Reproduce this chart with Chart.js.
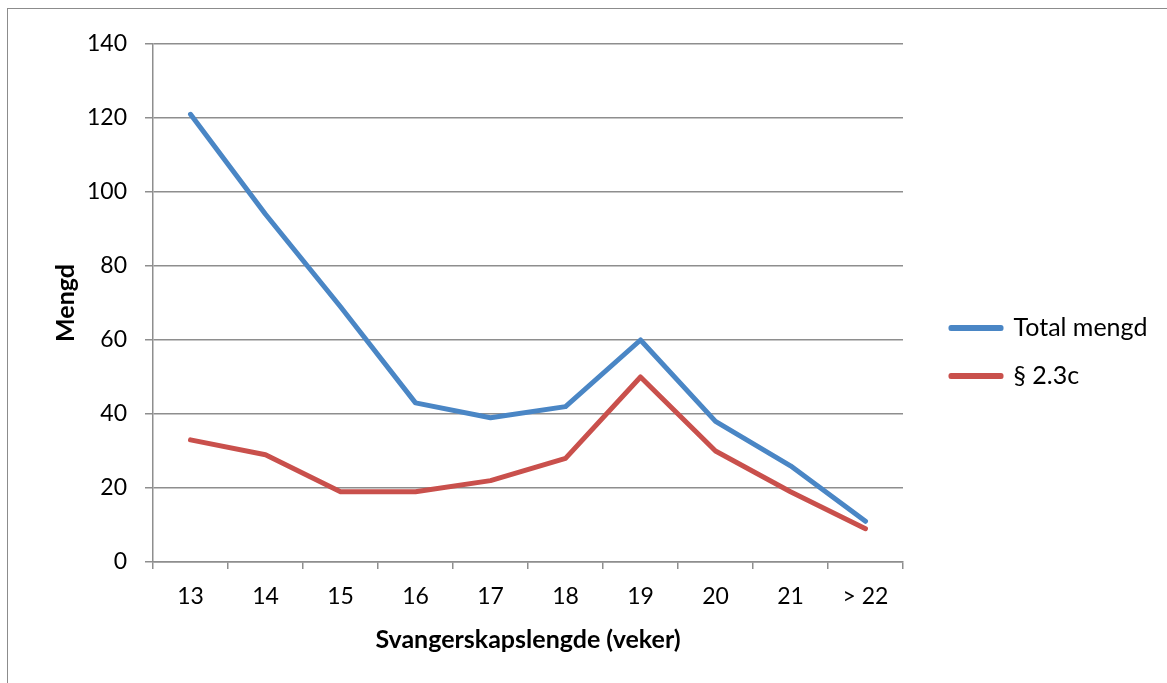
<!DOCTYPE html>
<html>
<head>
<meta charset="utf-8">
<script src="https://cdn.jsdelivr.net/npm/chart.js@4/dist/chart.umd.min.js"></script>
<style>
  html, body { margin: 0; padding: 0; background: #fff; overflow: hidden; }
  #frame { position: absolute; left: 7px; top: 8px; width: 1200px; height: 720px; border: 1px solid #8c8c8c; }
  #wrap { position: absolute; left: 9px; top: 9px; width: 1158px; height: 674px; }
</style>
</head>
<body>
<div id="frame"></div>
<div id="wrap"><canvas id="chart"></canvas></div>
<script>
const veker = ['13', '14', '15', '16', '17', '18', '19', '20', '21', '> 22'];
const totalMengd = [121, 94, 69, 43, 39, 42, 60, 38, 26, 11];
const paragraf23c = [33, 29, 19, 19, 22, 28, 50, 30, 19, 9];
const yTicks = [0, 20, 40, 60, 80, 100, 120, 140];

const FONT = 'Lato, "Open Sans", sans-serif';
const GRID = '#8e8e8e';

// legend needs a wider box and its items moved a bit
const legendShift = {
  id: 'legendShift',
  beforeUpdate(chart) {
    const lg = chart.legend;
    if (!lg || lg._shifted) return;
    lg._shifted = true;
    const fit = lg.fit;
    lg.fit = function () { fit.call(this); this.width = 264; };
    const draw = lg._draw;
    lg._draw = function () {
      this.left += 25; this.top -= 23;
      draw.call(this);
      this.left -= 25; this.top += 23;
    };
  }
};

new Chart(document.getElementById('chart'), {
  type: 'line',
  data: {
    labels: veker,
    datasets: [
      {
        label: 'Total mengd',
        data: totalMengd,
        borderColor: '#4a86c5',
        backgroundColor: '#4a86c5',
        borderWidth: 5,
        borderCapStyle: 'round',
        borderJoinStyle: 'round',
        pointRadius: 0,
        tension: 0
      },
      {
        label: '§ 2.3c',
        data: paragraf23c,
        borderColor: '#c9504c',
        backgroundColor: '#c9504c',
        borderWidth: 5,
        borderCapStyle: 'round',
        borderJoinStyle: 'round',
        pointRadius: 0,
        tension: 0
      }
    ]
  },
  options: {
    responsive: true,
    maintainAspectRatio: false,
    animation: false,
    layout: { padding: { top: 35, left: 0, right: 0, bottom: 0 } },
    scales: {
      x: {
        offset: true,
        grid: { display: true, drawOnChartArea: false, offset: true, tickLength: 7, color: GRID, lineWidth: 1.5 },
        border: { display: true, color: GRID, width: 1.5 },
        ticks: { color: '#000', padding: 14, font: { family: FONT, size: 23 } },
        title: {
          display: true,
          text: 'Svangerskapslengde (veker)',
          color: '#000',
          font: { family: FONT, size: 25, weight: 'bold' },
          padding: { top: 0, bottom: 28 }
        },
        afterFit(scale) { scale.height = 121; }
      },
      y: {
        min: 0,
        max: 140,
        afterBuildTicks(scale) { scale.ticks = yTicks.map(v => ({ value: v })); },
        grid: { color: GRID, lineWidth: 1.5, tickLength: 8 },
        border: { display: true, color: GRID, width: 1.5 },
        ticks: { color: '#000', padding: 18, font: { family: FONT, size: 23 } },
        title: {
          display: true,
          text: 'Mengd',
          color: '#000',
          font: { family: FONT, size: 25, weight: 'bold' },
          padding: { top: 42, bottom: 0 }
        },
        afterFit(scale) { scale.width = 144; }
      }
    },
    plugins: {
      legend: {
        position: 'right',
        labels: {
          color: '#000',
          boxWidth: 50,
          boxHeight: 1,
          padding: 23,
          font: { family: FONT, size: 25 }
        }
      },
      tooltip: { enabled: false }
    }
  },
  plugins: [legendShift]
});
</script>
</body>
</html>
